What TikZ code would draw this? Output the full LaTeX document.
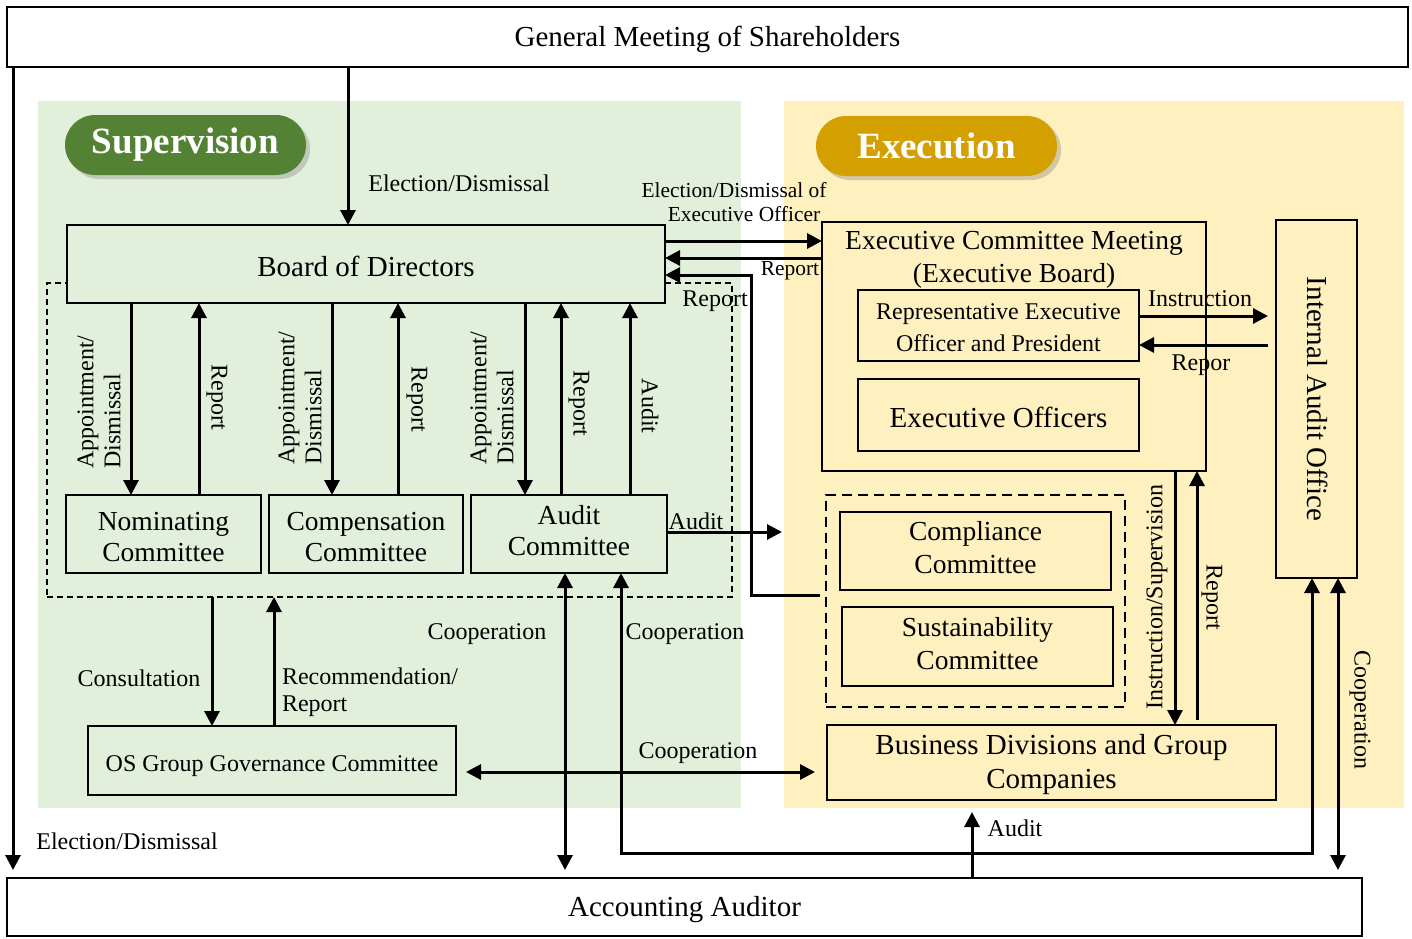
\documentclass[tikz,border=0pt]{standalone}
\usepackage{fontspec}
\setmainfont{Liberation Serif}
\usetikzlibrary{arrows.meta,shadows}
\definecolor{supbg}{HTML}{E2EFDA}
\definecolor{exebg}{HTML}{FFF0C0}
\definecolor{supdark}{HTML}{548235}
\definecolor{exedark}{HTML}{D4A000}
\begin{document}
\begin{tikzpicture}[x=1pt,y=-1pt,
  box/.style={draw, line width=2pt, inner sep=0pt, outer sep=0pt, align=center},
  fbig/.style={font=\fontsize{29}{34}\selectfont},
  fmid/.style={font=\fontsize{27.5}{31}\selectfont},
  fsm/.style={font=\fontsize{24}{31}\selectfont},
  lbl/.style={inner sep=0pt, outer sep=0pt, font=\fontsize{24}{27}\selectfont, align=center},
  lbls/.style={inner sep=0pt, outer sep=0pt, font=\fontsize{21.4}{24}\selectfont, align=center},
  badge/.style={rounded corners=30pt, minimum width=241pt, minimum height=60pt, inner sep=0pt,
    text=white, font=\bfseries\fontsize{37}{40}\selectfont,
    drop shadow={shadow xshift=4pt, shadow yshift=-4pt, opacity=0.35}},
  arr/.style={line width=3pt, -{Triangle[length=15pt,width=15pt]}},
  darr/.style={line width=3pt, {Triangle[length=15pt,width=15pt]}-{Triangle[length=15pt,width=15pt]}},
  dbx/.style={draw, dash pattern=on 6pt off 4pt, line width=1.8pt, inner sep=0pt, outer sep=0pt},
  dbx2/.style={draw, dash pattern=on 10pt off 6pt, line width=2.8pt, inner sep=0pt, outer sep=0pt}
]
\useasboundingbox (0,0) rectangle (1412,938);
\fill[white] (0,0) rectangle (1412,938);

% regions
\fill[supbg] (38,101) rectangle (741,808);
\fill[exebg] (784,101) rectangle (1404,808);

% badges
\node[badge, fill=supdark] (sup) at (185.5,145) {Supervision};
\node[badge, fill=exedark] (exe) at (936.5,146) {Execution};

% top and bottom bars
\node[box, minimum width=1401pt, minimum height=60pt] (gm) at (707.5,37) {};
\node[lbl, fbig] (gmt) at (707.5,39) {General Meeting of Shareholders};
\node[box, minimum width=1355pt, minimum height=58pt] (aa) at (684.5,907) {};
\node[lbl, fbig] (aat) at (684.5,910) {Accounting Auditor};

% supervision side
\node[dbx, minimum width=685pt, minimum height=314pt] (dbox) at (389.5,440) {};
\node[box, fill=supbg, minimum width=598pt, minimum height=78pt] (bod) at (366,264) {};
\node[lbl, fbig] (bodt) at (366,266) {Board of Directors};
\node[box, fill=supbg, minimum width=195pt, minimum height=78pt] (nom) at (163.5,534) {};
\node[lbl, fmid] (nomt) at (163.5,537) {Nominating\\Committee};
\node[box, fill=supbg, minimum width=194pt, minimum height=78pt] (comp) at (366,534) {};
\node[lbl, fmid] (compt) at (366,537) {Compensation\\Committee};
\node[box, fill=supbg, minimum width=196pt, minimum height=78pt] (aud) at (569,534) {};
\node[lbl, fmid] (audt) at (569,531) {Audit\\Committee};
\node[box, fill=supbg, minimum width=368pt, minimum height=69pt] (os) at (272,760.5) {};
\node[lbl] (ost) at (272,766) {OS Group Governance Committee};

% execution side
\node[box, fill=exebg, minimum width=384pt, minimum height=249pt] (ecm) at (1014,346.5) {};
\node[lbl, font=\fontsize{27.5}{33}\selectfont] (ecmt) at (1014,260) {Executive Committee Meeting\\(Executive Board)};
\node[box, fill=exebg, minimum width=281pt, minimum height=71pt] (rep) at (998.5,325.5) {};
\node[lbl, font=\fontsize{24}{32}\selectfont] (rept) at (998.5,328) {Representative Executive\\Officer and President};
\node[box, fill=exebg, minimum width=281pt, minimum height=72pt] (eo) at (998.5,415) {};
\node[lbl, fbig] (eot) at (998.5,417) {Executive Officers};
\node[box, fill=exebg, minimum width=81pt, minimum height=358pt] (iao) at (1316.5,399) {};
\node[lbl, fbig, rotate=-90] (iaot) at (1318,399) {Internal Audit Office};
\node[dbx2, minimum width=299pt, minimum height=212pt] (cg) at (975.5,601) {};
\node[box, fill=exebg, minimum width=271pt, minimum height=78pt] (cc) at (975.5,551) {};
\node[lbl, font=\fontsize{27.5}{33}\selectfont] (cct) at (975.5,548) {Compliance\\Committee};
\node[box, fill=exebg, minimum width=271pt, minimum height=79pt] (sc) at (977.5,646.5) {};
\node[lbl, font=\fontsize{27.5}{33}\selectfont] (sct) at (977.5,644) {Sustainability\\Committee};
\node[box, fill=exebg, minimum width=449pt, minimum height=75pt] (bd) at (1051.5,762.5) {};
\node[lbl, fbig] (bdt) at (1051.5,765) {Business Divisions and Group\\Companies};

% ---- connectors ----
% General meeting
\draw[arr] (gm.south -| 348,0) -- (bod.north -| 348,0);
\node[lbl] (l1) at (459,183) {Election/Dismissal};
\draw[arr, shorten >=8pt] (gm.south -| 13,0) -- (aa.north -| 13,0);
\node[lbl] (l2) at (127,841) {Election/Dismissal};

% board <-> committees
\draw[arr] (bod.south -| 131,0) -- (nom.north -| 131,0);
\draw[arr] (nom.north -| 199,0) -- (bod.south -| 199,0);
\draw[arr] (bod.south -| 332,0) -- (comp.north -| 332,0);
\draw[arr] (comp.north -| 398,0) -- (bod.south -| 398,0);
\draw[arr] (bod.south -| 525,0) -- (aud.north -| 525,0);
\draw[arr] (aud.north -| 561,0) -- (bod.south -| 561,0);
\draw[arr] (aud.north -| 630,0) -- (bod.south -| 630,0);
\node[lbl, rotate=90, align=left] (a1) at (99,402) {Appointment/\\Dismissal};
\node[lbl, rotate=90, align=left] (a2) at (300,398) {Appointment/\\Dismissal};
\node[lbl, rotate=90, align=left] (a3) at (492,398) {Appointment/\\Dismissal};
\node[lbl, rotate=-90] (r1) at (217,397) {Report};
\node[lbl, rotate=-90] (r2) at (417,399) {Report};
\node[lbl, rotate=-90] (r3) at (579,403) {Report};
\node[lbl, rotate=-90] (r4) at (650,406) {Audit};

% audit committee -> execution
\coordinate (auditend) at (782,532);
\draw[arr] (aud.east |- auditend) -- (auditend);
\node[lbl] (l3) at (696,521) {Audit};

% board <-> executive committee
\draw[arr] (bod.east |- 0,241) -- (ecm.west |- 0,241);
\node[lbls] (l4) at (734,202) {Election/Dismissal of\\\hspace*{20pt}Executive Officer};
\draw[arr] (ecm.west |- 0,258) -- (bod.east |- 0,258);
\node[lbls] (l5) at (790,271) {Report};
\draw[arr, shorten <=6pt] (cg.west |- 0,595) -| (751,275) -- (bod.east |- 0,275);
\node[lbl] (l6) at (715,301) {Report};

% representative <-> internal audit office
\draw[arr, shorten >=8pt] (rep.east |- 0,316) -- (iao.west |- 0,316);
\node[lbl] (l7) at (1200,299) {Instruction};
\draw[arr, shorten <=8pt] (iao.west |- 0,345) -- (rep.east |- 0,345);
\node[lbl] (l8) at (1201,365) {Repor};

% executive committee <-> business divisions
\draw[arr] (ecm.south -| 1175,0) -- (bd.north -| 1175,0);
\node[lbl, rotate=90] (l9) at (1157,597) {Instruction/Supervision};
\draw[arr, shorten <=5pt] (bd.north -| 1197,0) -- (ecm.south -| 1197,0);
\node[lbl, rotate=-90] (l10) at (1212,597) {Report};

% audit committee <-> accounting auditor / internal audit office
\draw[darr, shorten >=8pt] (aud.south -| 565,0) -- (aa.north -| 565,0);
\node[lbl] (l11) at (487,634) {Cooperation};
\draw[darr] (iao.south -| 1312,0) |- (621,853) -- (aud.south -| 621,0);
\node[lbl] (l12) at (685,634) {Cooperation};
\draw[darr, shorten >=8pt] (iao.south -| 1338,0) -- (aa.north -| 1338,0);
\node[lbl, rotate=-90] (l13) at (1360,710) {Cooperation};

% accounting auditor -> business divisions
\draw[arr, shorten >=12pt] (aa.north -| 972,0) -- (bd.south -| 972,0);
\node[lbl] (l14) at (1015,828) {Audit};

% OS group governance
\draw[arr] (dbox.south -| 212,0) -- (os.north -| 212,0);
\node[lbl] (l15) at (139,678) {Consultation};
\draw[arr] (os.north -| 274,0) -- (dbox.south -| 274,0);
\node[lbl, align=left, anchor=west] (l16) at (282,692) {Recommendation/\\Report};
\draw[darr, shorten <=10pt, shorten >=12pt] (os.east |- 0,772) -- (bd.west |- 0,772);
\node[lbl] (l17) at (698,753) {Cooperation};
\end{tikzpicture}
\end{document}
